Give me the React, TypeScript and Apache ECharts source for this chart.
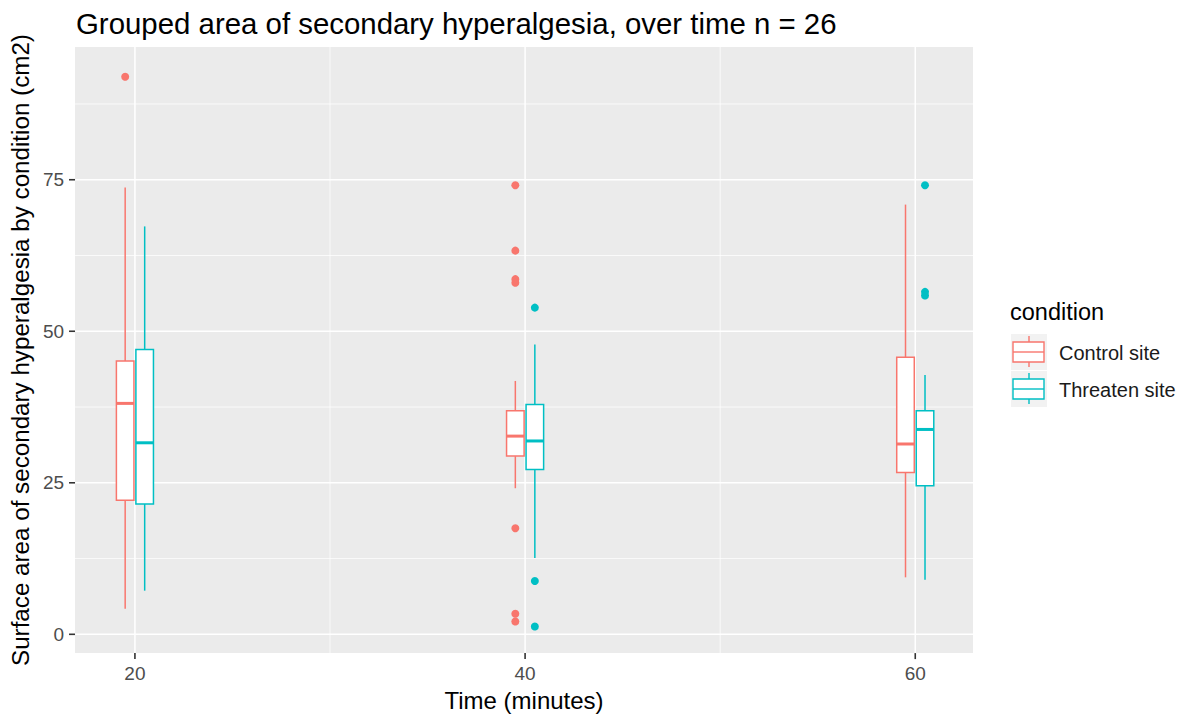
import React, { useEffect, useRef } from "react";
import * as echarts from "echarts";

// ---- data ----
const times = [20, 40, 60];
const conditionNames = ["Control site", "Threaten site"];
const conditionColors = ["#F8766D", "#00BFC4"];
// [lower whisker, Q1, median, Q3, upper whisker] for each time
const controlBoxes = [
  [4.2, 22.1, 38.1, 45.1, 73.7],
  [24.1, 29.4, 32.7, 36.9, 41.8],
  [9.4, 26.7, 31.4, 45.7, 70.9],
];
const threatenBoxes = [
  [7.2, 21.5, 31.6, 47.0, 67.3],
  [12.6, 27.2, 31.9, 37.9, 47.8],
  [9.0, 24.5, 33.8, 36.9, 42.8],
];
// [time, value]
const controlOutliers = [
  [20, 92.0],
  [40, 74.1],
  [40, 63.3],
  [40, 58.6],
  [40, 58.0],
  [40, 17.5],
  [40, 3.4],
  [40, 2.1],
];
const threatenOutliers = [
  [40, 53.9],
  [40, 8.8],
  [40, 1.3],
  [60, 74.1],
  [60, 56.5],
  [60, 55.9],
];
const xTicks = [20, 40, 60];
const xMinor = [30, 50];
const yTicks = [0, 25, 50, 75];
const yMinor = [12.5, 37.5, 62.5, 87.5];

const X_MIN = 16.93;
const X_MAX = 62.96;
const Y_MIN = -3.1;
const Y_MAX = 96.9;
const DODGE = 0.5;
const BOX_W = 0.9;
const FONT = "'Liberation Sans', Arial, sans-serif";

export default function App() {
  const ref = useRef<HTMLDivElement>(null);

  useEffect(() => {
    document.body.style.margin = "0";
    if (!ref.current) return;
    const chart = echarts.init(ref.current, undefined, { renderer: "svg" });

    const hLines = [...yMinor.map((v) => [v, 0]), ...yTicks.map((v) => [v, 1])];
    const vLines = [...xMinor.map((v) => [v, 0]), ...xTicks.map((v) => [v, 1])];

    const boxSeries = (boxes: number[][], offset: number, color: string, name: string) => ({
      type: "custom",
      name,
      z: 3,
      silent: true,
      data: boxes.map((b, i) => [times[i] + offset, ...b]),
      encode: { x: 0, y: [1, 2, 3, 4, 5] },
      renderItem: (params: any, api: any) => {
        const x = api.value(0);
        const lo = api.coord([x, api.value(1)]);
        const q1 = api.coord([x, api.value(2)]);
        const med = api.coord([x, api.value(3)]);
        const q3 = api.coord([x, api.value(4)]);
        const hi = api.coord([x, api.value(5)]);
        const half = api.size([BOX_W, 0])[0] / 2;
        const cx = lo[0];
        const ls = { stroke: color, lineWidth: 1.5 };
        return {
          type: "group",
          children: [
            { type: "line", shape: { x1: cx, y1: hi[1], x2: cx, y2: q3[1] }, style: ls },
            { type: "line", shape: { x1: cx, y1: q1[1], x2: cx, y2: lo[1] }, style: ls },
            {
              type: "rect",
              shape: { x: cx - half, y: q3[1], width: half * 2, height: q1[1] - q3[1] },
              style: { fill: "#ffffff", stroke: color, lineWidth: 1.5 },
            },
            {
              type: "line",
              shape: { x1: cx - half, y1: med[1], x2: cx + half, y2: med[1] },
              style: { stroke: color, lineWidth: 3 },
            },
          ],
        };
      },
    });

    const outlierSeries = (pts: number[][], offset: number, color: string, name: string) => ({
      type: "scatter",
      name,
      z: 4,
      symbolSize: 8,
      itemStyle: { color, opacity: 1 },
      data: pts.map(([t, v]) => [t + offset, v]),
    });

    // legend graphic
    const legendX = 1011;
    const legendTop = 334;
    const keySize = 36;
    const keyGap = 1;
    const legendChildren: any[] = [
      {
        type: "text",
        x: 1010,
        y: 312,
        style: { text: "condition", font: `23.5px ${FONT}`, fill: "#000", verticalAlign: "middle" },
      },
    ];
    conditionNames.forEach((nm, i) => {
      const top = legendTop + i * (keySize + keyGap);
      const col = conditionColors[i];
      const cx = legendX + 18;
      legendChildren.push(
        { type: "rect", shape: { x: legendX, y: top, width: keySize, height: keySize }, style: { fill: "#F2F2F2" } },
        { type: "line", shape: { x1: cx, y1: top + 2, x2: cx, y2: top + 8 }, style: { stroke: col, lineWidth: 1.4 } },
        { type: "line", shape: { x1: cx, y1: top + 28, x2: cx, y2: top + 33 }, style: { stroke: col, lineWidth: 1.4 } },
        {
          type: "rect",
          shape: { x: legendX + 2, y: top + 8, width: 31, height: 20 },
          style: { fill: "#fff", stroke: col, lineWidth: 1.4 },
        },
        { type: "line", shape: { x1: legendX + 2, y1: top + 18, x2: legendX + 33, y2: top + 18 }, style: { stroke: col, lineWidth: 1.4 } },
        {
          type: "text",
          x: 1059,
          y: top + 19,
          style: { text: nm, font: `20px ${FONT}`, fill: "#1A1A1A", verticalAlign: "middle" },
        }
      );
    });

    const tickStyle = { stroke: "#333333", lineWidth: 1.6 };

    chart.setOption({
      animation: false,
      title: {
        text: "Grouped area of secondary hyperalgesia, over time n = 26",
        left: 71,
        top: 4,
        textStyle: { fontFamily: FONT, fontSize: 29.4, fontWeight: "normal", color: "#000" },
      },
      grid: {
        left: 72,
        right: 209,
        top: 47,
        bottom: 62,
        show: true,
        backgroundColor: "#EBEBEB",
        borderWidth: 0,
      },
      xAxis: {
        type: "value",
        min: X_MIN,
        max: X_MAX,
        axisLine: { show: false, onZero: false },
        axisTick: { show: false },
        axisLabel: { customValues: xTicks, color: "#4D4D4D", fontSize: 19, fontFamily: FONT, margin: 11 },
        splitLine: { show: false },
        name: "Time (minutes)",
        nameLocation: "middle",
        nameGap: 34,
        nameTextStyle: { color: "#000", fontSize: 24, fontFamily: FONT },
      },
      yAxis: {
        type: "value",
        min: Y_MIN,
        max: Y_MAX,
        axisLine: { show: false, onZero: false },
        axisTick: { show: false },
        axisLabel: { customValues: yTicks, color: "#4D4D4D", fontSize: 19, fontFamily: FONT, margin: 11 },
        splitLine: { show: false },
        name: "Surface area of secondary hyperalgesia by condition (cm2)",
        nameLocation: "middle",
        nameRotate: 90,
        nameGap: 38,
        nameTextStyle: { color: "#000", fontSize: 24.2, fontFamily: FONT },
      },
      series: [
        {
          type: "custom",
          z: 1,
          silent: true,
          data: hLines,
          renderItem: (params: any, api: any) => {
            const cs = params.coordSys;
            const y = api.coord([X_MIN, api.value(0)])[1];
            return {
              type: "line",
              shape: { x1: cs.x, y1: y, x2: cs.x + cs.width, y2: y },
              style: { stroke: "#ffffff", lineWidth: api.value(1) ? 1.5 : 0.75 },
            };
          },
        },
        {
          type: "custom",
          z: 1,
          silent: true,
          data: vLines,
          renderItem: (params: any, api: any) => {
            const cs = params.coordSys;
            const x = api.coord([api.value(0), 0])[0];
            return {
              type: "line",
              shape: { x1: x, y1: cs.y, x2: x, y2: cs.y + cs.height },
              style: { stroke: "#ffffff", lineWidth: api.value(1) ? 1.5 : 0.75 },
            };
          },
        },
        {
          type: "custom",
          z: 5,
          silent: true,
          clip: false,
          data: xTicks.map((v) => [v, 0]),
          renderItem: (params: any, api: any) => {
            const cs = params.coordSys;
            const x = api.coord([api.value(0), 0])[0];
            const b = cs.y + cs.height;
            return { type: "line", shape: { x1: x, y1: b, x2: x, y2: b + 6 }, style: tickStyle };
          },
        },
        {
          type: "custom",
          z: 5,
          silent: true,
          clip: false,
          data: yTicks.map((v) => [20, v]),
          renderItem: (params: any, api: any) => {
            const cs = params.coordSys;
            const y = api.coord([20, api.value(1)])[1];
            return { type: "line", shape: { x1: cs.x - 6, y1: y, x2: cs.x, y2: y }, style: tickStyle };
          },
        },
        boxSeries(controlBoxes, -DODGE, conditionColors[0], conditionNames[0]),
        boxSeries(threatenBoxes, DODGE, conditionColors[1], conditionNames[1]),
        outlierSeries(controlOutliers, -DODGE, conditionColors[0], conditionNames[0]),
        outlierSeries(threatenOutliers, DODGE, conditionColors[1], conditionNames[1]),
      ],
      graphic: { elements: legendChildren },
    });

    return () => chart.dispose();
  }, []);

  return <div ref={ref} style={{ width: 1182, height: 717 }} />;
}
